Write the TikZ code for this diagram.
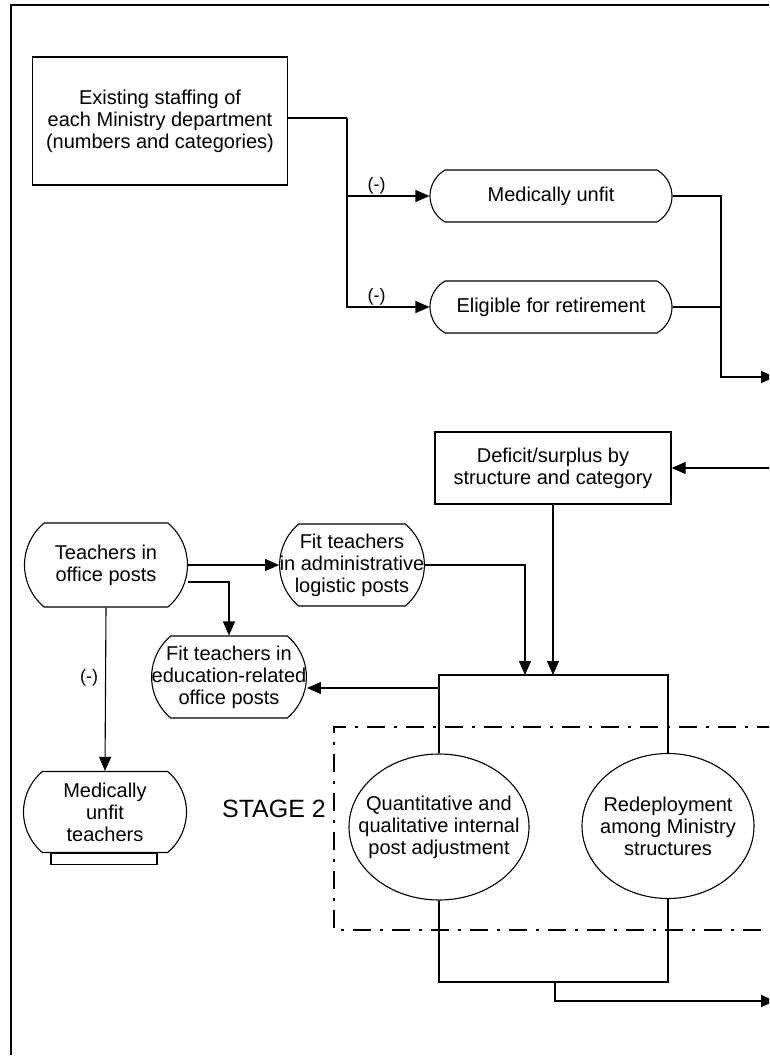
\documentclass[tikz,border=0pt]{standalone}
\usepackage{fontspec}
\setmainfont{Liberation Sans}
\usetikzlibrary{arrows.meta, positioning, shapes.geometric, shapes.misc}
\tikzstyle{chart}=[x=1pt, y=-1pt, line width=1.1pt,
                   >={Triangle[length=14pt,width=12pt]},
                   font=\fontsize{20}{22}\selectfont]
\tikzstyle{block}=[draw, rectangle, line width=1.4pt, align=center,
                   inner sep=0pt]
\tikzstyle{pill}=[draw, rounded rectangle, rounded rectangle arc length=100,
                  align=center, inner xsep=-10pt, inner ysep=0pt]
\tikzstyle{oval}=[draw, ellipse, align=center, inner xsep=-24pt,
                  inner ysep=0pt]
\tikzstyle{minus}=[font=\fontsize{18}{20}\selectfont, inner sep=1pt]
\tikzstyle{stagebox}=[line width=1.9pt,
                      dash pattern=on 18pt off 9pt on 3pt off 9pt]

\begin{document}
\begin{tikzpicture}[chart]
  \clip (0,0) rectangle (769,1058);
  % frame
  \draw (769,5) -- (11,5) -- (11,1055);

  % stage 1
  \node[block, minimum width=255, minimum height=128] (staff) at (160,121)
    {Existing staffing of\\each Ministry department\\(numbers and categories)};
  \node[pill, rounded rectangle arc length=120, minimum width=222,
        minimum height=52] (mu) at (551,196) {Medically unfit};
  \node[pill, rounded rectangle arc length=120, minimum width=222,
        minimum height=52] (elig) at (551,307) {Eligible for retirement};
  \coordinate (split) at (347,118);
  \coordinate (jA) at (721,377);
  \coordinate (outA) at (775,377);
  \draw (staff.east |- split) -- (split);
  \draw[->] (split) |- node[minus, above, pos=.68] {(-)} (mu.west);
  \draw[->] (split) |- node[minus, above, pos=.68] {(-)} (elig.west);
  \draw[->] (mu.east) -| (jA) -- (outA);
  \draw (elig.east) -- (elig.east -| jA);

  % teachers in office posts
  \node[block, minimum width=236, minimum height=72] (deficit) at (553,468)
    {Deficit/surplus by\\structure and category};
  \node[pill, minimum width=143, minimum height=84] (teach) at (106,565)
    {Teachers in\\office posts};
  \node[pill, minimum width=144, minimum height=82] (admin) at (352,565)
    {Fit teachers\\in administrative\\logistic posts};
  \node[pill, minimum width=142, minimum height=82] (edu) at (229,677)
    {Fit teachers in\\education-related\\office posts};
  \node[pill, minimum width=143, minimum height=81] (mut) at (105,812)
    {Medically\\unfit\\teachers};
  \draw ([xshift=-54pt]mut.south) rectangle ([xshift=52pt,yshift=-11pt]mut.south);
  \coordinate (inB) at (775,468);
  \draw[->] (inB) -- (deficit.east |- inB);
  \draw[->] (teach.east) -- (admin.west);
  \draw[->] ([yshift=-17pt]teach.east) -| (edu.north);
  \draw[->] (teach.south) -- node[minus, left=6pt, pos=.43] {(-)} (mut.north);

  % stage 2
  \node[oval, minimum width=180, minimum height=146] (quant) at (439,827)
    {Quantitative and\\qualitative internal\\post adjustment};
  \node[oval, minimum width=172, minimum height=145] (redep) at (668,826)
    {Redeployment\\among Ministry\\structures};
  \node[font=\fontsize{25}{27}\selectfont] (stage) at (274,809) {STAGE 2};
  \draw[stagebox] (775,727) -- (334,727) -- (334,930) -- (775,930);
  \coordinate (jt) at (439,675);
  \coordinate (jin) at (525,675);
  \coordinate (jl) at (439,688);
  \draw (quant.north) -- (jt) -- (redep.north |- jt) -- (redep.north);
  \draw[->] (deficit.south) -- (deficit.south |- jt);
  \draw[->] (admin.east) -| (jin);
  \draw[->] (jl) -- (jl -| edu.east);
  \coordinate (jb) at (439,982);
  \coordinate (jbm) at (555,982);
  \coordinate (outC) at (775,1001);
  \draw (quant.south) -- (jb) -- (redep.south |- jb) -- (redep.south);
  \draw[->] (jbm) |- (outC);
\end{tikzpicture}
\end{document}
